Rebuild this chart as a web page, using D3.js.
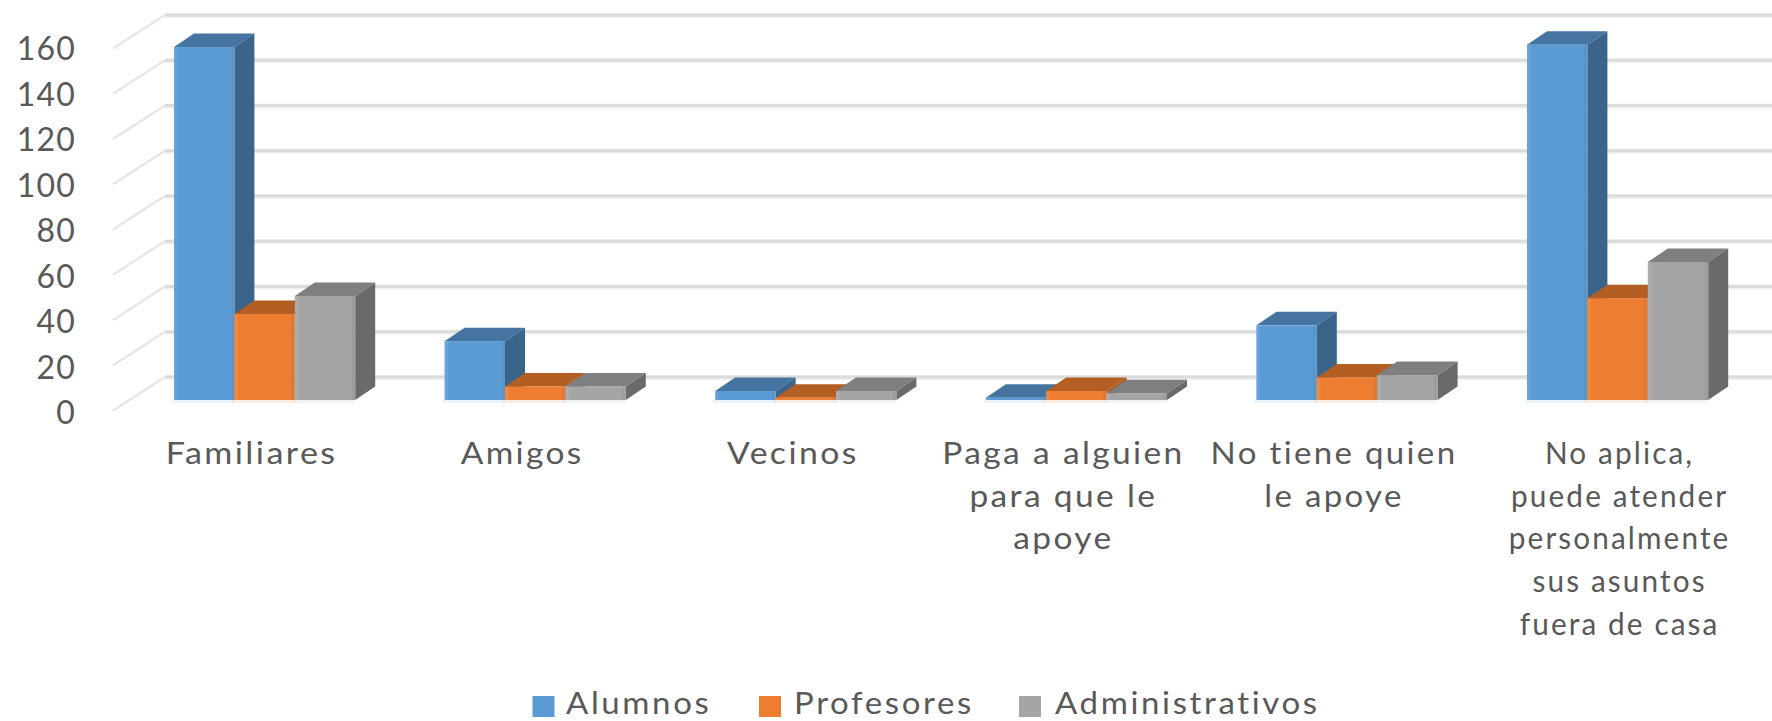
<!DOCTYPE html>
<html><head><meta charset="utf-8">
<script src="https://cdn.jsdelivr.net/npm/d3@7"></script>
<style>html,body{margin:0;background:#fff;overflow:hidden}text{font-family:Lato,sans-serif;fill:#595959}</style>
</head><body><svg id="c" width="1772" height="721"></svg>
<script>
const categories=["Familiares","Amigos","Vecinos","Paga a alguien para que le apoye","No tiene quien le apoye","No aplica, puede atender personalmente sus asuntos fuera de casa"];
const categoryLines=[["Familiares"],["Amigos"],["Vecinos"],["Paga a alguien","para que le","apoye"],["No tiene quien","le apoye"],["No aplica,","puede atender","personalmente","sus asuntos","fuera de casa"]];
const seriesNames=["Alumnos","Profesores","Administrativos"];
const alumnos=[156,26,4,1,33,157];
const profesores=[38,6,1,4,10,45];
const administrativos=[46,6,4,3,11,61];
const seriesValues=[alumnos,profesores,administrativos];
const tickValues=[0,20,40,60,80,100,120,140,160];
const frontColors=["#5b9bd5","#ed7d31","#a5a5a5"];
const topColors=["#44749f","#b35e22","#7f7f7f"];
const sideColors=["#3a6489","#a85a20","#6a6a6a"];

const svg=d3.select("#c");
const depthX=20,depthY=13.5;
const pxPerUnit=362/160;
const yBar=d3.scaleLinear().domain([0,160]).range([400,400-160*pxPerUnit]);
const yBack=d3.scaleLinear().domain([0,160]).range([377,15]);
const yFloor=d3.scaleLinear().domain([0,160]).range([410,48]);
const yLabel=d3.scaleLinear().domain([0,160]).range([412,48]);
const step=270.6,group=181.2;
const x0=d3.scaleBand().domain(categories).range([174,174+5*step+group]).paddingInner(1-group/step).paddingOuter(0);
const x1=d3.scaleBand().domain(seriesNames).range([0,x0.bandwidth()]);

// walls
const grid=svg.append("g");
tickValues.forEach(t=>{
  const yb=yBack(t),yf=yFloor(t);
  grid.append("line").attr("x1",165).attr("x2",1772).attr("y1",yb+.5).attr("y2",yb+.5).attr("stroke","#f0f0f0").attr("stroke-width",5);
  grid.append("line").attr("x1",165).attr("x2",1772).attr("y1",yb).attr("y2",yb).attr("stroke","#dcdcdc").attr("stroke-width",3);
  grid.append("line").attr("x1",113).attr("x2",165).attr("y1",yf+.5).attr("y2",yb).attr("stroke","#e6e6e6").attr("stroke-width",2.2);
});

// axis labels
const axis=svg.append("g").attr("transform","translate(76,0)").call(d3.axisLeft(yLabel).tickValues(tickValues).tickSize(0).tickPadding(0));
axis.select(".domain").remove();
axis.selectAll("text").style("font-size","32px").style("font-family","Lato,sans-serif").style("fill","#595959").attr("dy",".36em").style("letter-spacing","1.2px");

// bars
const poly=p=>p.map(q=>q.join(",")).join(" ");
const labelStretch=[1.1,1.08,1.09,1.08,1.065,.96];
categories.forEach((c,ci)=>{
  const g=svg.append("g");
  seriesNames.forEach((s,si)=>{
    const v=seriesValues[si][ci];
    const l=x0(c)+x1(s),r=l+x1.bandwidth(),t=yBar(v),b=yBar(0);
    g.append("rect").attr("x",l-2).attr("y",b).attr("width",r-l+2).attr("height",3).attr("fill",frontColors[si]).attr("opacity",.13);
    g.append("polygon").attr("points",poly([[r,t],[r+depthX,t-depthY],[r+depthX,b-depthY],[r,b]])).attr("fill",sideColors[si]);
    g.append("polygon").attr("points",poly([[l,t],[l+depthX,t-depthY],[r+depthX,t-depthY],[r,t]])).attr("fill",topColors[si]);
    g.append("rect").attr("x",l).attr("y",t).attr("width",r-l).attr("height",b-t).attr("fill",frontColors[si]);
    g.append("rect").attr("x",l).attr("y",t).attr("width",3.5).attr("height",b-t).attr("fill","#fff").attr("opacity",.08);
    g.append("rect").attr("x",r-3.5).attr("y",t).attr("width",3.5).attr("height",b-t).attr("fill","#555").attr("opacity",.1);
  });
  // category label
  const cx=x0(c)+x0.bandwidth()/2+(ci===5?2:-13);
  categoryLines[ci].forEach((ln,i)=>{
    svg.append("text").attr("transform",`translate(${cx},${464+i*42.7}) scale(${labelStretch[ci]},1)`).attr("text-anchor","middle")
      .style("font-size","31px").style("letter-spacing","2.2px").text(ln);
  });
});

// legend
const legendX=[532.5,759,1019],legendTextX=[566,794,1055];
seriesNames.forEach((s,i)=>{
  svg.append("rect").attr("x",legendX[i]).attr("y",696).attr("width",22).attr("height",21).attr("fill",frontColors[i]);
  svg.append("text").attr("transform",`translate(${legendTextX[i]},714) scale(1.1,1)`).style("font-size","30px").style("letter-spacing","2.4px").text(s);
});
</script></body></html>
